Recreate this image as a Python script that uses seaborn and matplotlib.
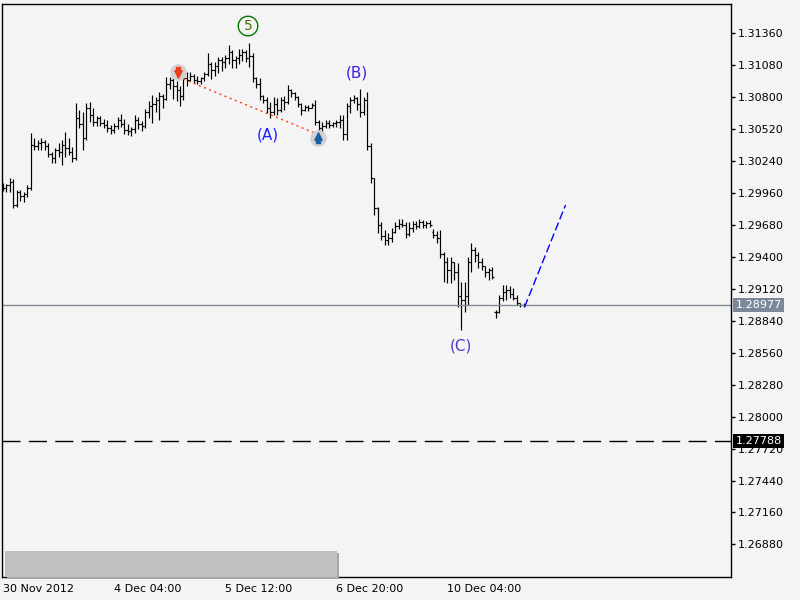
import matplotlib
matplotlib.use("Agg")
import matplotlib.pyplot as plt
from matplotlib.patches import Rectangle
import numpy as np
import pandas as pd
import seaborn as sns

# Hourly EURUSD bars (30 Nov 2012 20:00 onwards)
opens = [
    1.30019, 1.30001, 1.30027, 1.30054, 1.29852, 1.29966, 1.29931, 1.29949, 1.30001, 1.30378,
    1.30369, 1.30395, 1.30404, 1.30369, 1.30299, 1.30264, 1.30334, 1.30316, 1.30378, 1.30351,
    1.30316, 1.30264, 1.30614, 1.30561, 1.30439, 1.30702, 1.30640, 1.30579, 1.30614, 1.30570,
    1.30553, 1.30526, 1.30509, 1.30544, 1.30596, 1.30561,
    1.30509, 1.30500, 1.30518, 1.30596, 1.30561, 1.30544, 1.30667, 1.30719, 1.30737, 1.30772,
    1.30807, 1.30780, 1.30912, 1.30947, 1.30894, 1.30859, 1.30807, 1.30964, 1.30947, 1.30982,
    1.30947, 1.30938, 1.30964, 1.30999, 1.31087, 1.31034, 1.31069, 1.31122, 1.31104, 1.31139,
    1.31192, 1.31122, 1.31139, 1.31165, 1.31192, 1.31139,
    1.31157, 1.30964, 1.30912, 1.30807, 1.30772, 1.30702, 1.30667, 1.30737, 1.30684, 1.30772,
    1.30754, 1.30859, 1.30833, 1.30798, 1.30737, 1.30684, 1.30710, 1.30702, 1.30728, 1.30579,
    1.30526, 1.30544, 1.30570, 1.30553, 1.30570, 1.30579, 1.30596, 1.30474, 1.30719, 1.30772,
    1.30789, 1.30737, 1.30667, 1.30772, 1.30369, 1.30089, 1.29826,
    1.29677, 1.29581, 1.29546, 1.29563, 1.29616, 1.29668, 1.29686, 1.29677, 1.29598, 1.29651,
    1.29686, 1.29668, 1.29703, 1.29677, 1.29695, 1.29616, 1.29590, 1.29563, 1.29423, 1.29353,
    1.29283, 1.29353, 1.29266, 1.29056, 1.29021, 1.29056, 1.29353, 1.29459, 1.29415, 1.29353,
    1.29318, 1.29266, 1.29283, 1.28915, 1.28915, 1.29038, 1.29091, 1.29108, 1.29073, 1.29038,
    1.28994, 1.28977,
]
highs = [
    1.30045, 1.30036, 1.30089, 1.30080, 1.29984, 1.29984, 1.29966, 1.30027, 1.30483, 1.30439,
    1.30421, 1.30439, 1.30421, 1.30395, 1.30316, 1.30351, 1.30395, 1.30421, 1.30491, 1.30439,
    1.30360, 1.30745, 1.30684, 1.30667, 1.30745, 1.30754, 1.30702, 1.30631, 1.30631, 1.30605,
    1.30596, 1.30553, 1.30570, 1.30623, 1.30649, 1.30605,
    1.30561, 1.30535, 1.30640, 1.30623, 1.30588, 1.30693, 1.30763, 1.30815, 1.30798, 1.30842,
    1.30824, 1.30973, 1.30973, 1.30999, 1.30938, 1.30894, 1.31017, 1.31017, 1.31017, 1.30999,
    1.30982, 1.30973, 1.31017, 1.31183, 1.31104, 1.31104, 1.31148, 1.31148, 1.31165, 1.31253,
    1.31209, 1.31157, 1.31218, 1.31218, 1.31209, 1.31271,
    1.31183, 1.30973, 1.30964, 1.30815, 1.30798, 1.30754, 1.30798, 1.30789, 1.30798, 1.30807,
    1.30903, 1.30868, 1.30842, 1.30807, 1.30745, 1.30728, 1.30728, 1.30745, 1.30772, 1.30596,
    1.30579, 1.30596, 1.30596, 1.30579, 1.30596, 1.30640, 1.30640, 1.30745, 1.30798, 1.30815,
    1.30798, 1.30868, 1.30798, 1.30842, 1.30395, 1.30089, 1.29835,
    1.29703, 1.29633, 1.29607, 1.29651, 1.29703, 1.29730, 1.29730, 1.29703, 1.29703, 1.29712,
    1.29712, 1.29730, 1.29721, 1.29712, 1.29721, 1.29642, 1.29625, 1.29633, 1.29441, 1.29397,
    1.29397, 1.29353, 1.29345, 1.29178, 1.29178, 1.29397, 1.29520, 1.29485, 1.29441, 1.29388,
    1.29318, 1.29301, 1.29310, 1.28933, 1.29064, 1.29152, 1.29152, 1.29143, 1.29126, 1.29064,
    1.28994, 1.28994,
]
lows = [
    1.29975, 1.29966, 1.29966, 1.29826, 1.29835, 1.29887, 1.29879, 1.29922, 1.29984, 1.30334,
    1.30334, 1.30334, 1.30334, 1.30272, 1.30220, 1.30220, 1.30272, 1.30203, 1.30272, 1.30290,
    1.30229, 1.30246, 1.30526, 1.30334, 1.30421, 1.30579, 1.30544, 1.30544, 1.30544, 1.30526,
    1.30491, 1.30474, 1.30483, 1.30518, 1.30535, 1.30474,
    1.30465, 1.30456, 1.30483, 1.30518, 1.30500, 1.30526, 1.30614, 1.30570, 1.30667, 1.30596,
    1.30702, 1.30772, 1.30868, 1.30780, 1.30763, 1.30719, 1.30772, 1.30894, 1.30938, 1.30920,
    1.30912, 1.30912, 1.30938, 1.30982, 1.30955, 1.30982, 1.31008, 1.31025, 1.31052, 1.31087,
    1.31052, 1.31052, 1.31087, 1.31113, 1.31104, 1.31060,
    1.30929, 1.30877, 1.30772, 1.30745, 1.30658, 1.30614, 1.30640, 1.30640, 1.30667, 1.30684,
    1.30737, 1.30798, 1.30772, 1.30710, 1.30640, 1.30675, 1.30675, 1.30702, 1.30553, 1.30491,
    1.30483, 1.30526, 1.30526, 1.30535, 1.30535, 1.30526, 1.30421, 1.30421, 1.30658, 1.30745,
    1.30684, 1.30623, 1.30640, 1.30334, 1.30045, 1.29765, 1.29607,
    1.29546, 1.29502, 1.29502, 1.29528, 1.29607, 1.29642, 1.29660, 1.29563, 1.29581, 1.29616,
    1.29642, 1.29651, 1.29651, 1.29651, 1.29660, 1.29563, 1.29520, 1.29388, 1.29178, 1.29169,
    1.29169, 1.29196, 1.28959, 1.28758, 1.28915, 1.28977, 1.29266, 1.29353, 1.29301, 1.29283,
    1.29222, 1.29196, 1.29204, 1.28863, 1.28906, 1.29012, 1.29021, 1.29038, 1.29021, 1.28977,
    1.28959, 1.28959,
]
closes = [
    1.30001, 1.30027, 1.30054, 1.29852, 1.29966, 1.29931, 1.29949, 1.30001, 1.30378, 1.30369,
    1.30395, 1.30404, 1.30369, 1.30299, 1.30264, 1.30334, 1.30316, 1.30378, 1.30351, 1.30316,
    1.30264, 1.30614, 1.30561, 1.30439, 1.30702, 1.30640, 1.30579, 1.30614, 1.30570, 1.30553,
    1.30526, 1.30509, 1.30544, 1.30596, 1.30561, 1.30509,
    1.30500, 1.30518, 1.30596, 1.30561, 1.30544, 1.30667, 1.30719, 1.30737, 1.30772, 1.30807,
    1.30780, 1.30912, 1.30947, 1.30894, 1.30859, 1.30807, 1.30964, 1.30947, 1.30982, 1.30947,
    1.30938, 1.30964, 1.30999, 1.31087, 1.31034, 1.31069, 1.31122, 1.31104, 1.31139, 1.31192,
    1.31122, 1.31139, 1.31165, 1.31192, 1.31139, 1.31157,
    1.30964, 1.30912, 1.30807, 1.30772, 1.30702, 1.30667, 1.30737, 1.30684, 1.30772, 1.30754,
    1.30859, 1.30833, 1.30798, 1.30737, 1.30684, 1.30710, 1.30702, 1.30728, 1.30579, 1.30526,
    1.30544, 1.30570, 1.30553, 1.30570, 1.30579, 1.30596, 1.30474, 1.30719, 1.30772, 1.30789,
    1.30737, 1.30667, 1.30772, 1.30369, 1.30089, 1.29826, 1.29677,
    1.29581, 1.29546, 1.29563, 1.29616, 1.29668, 1.29686, 1.29677, 1.29598, 1.29651, 1.29686,
    1.29668, 1.29703, 1.29677, 1.29695, 1.29677, 1.29590, 1.29563, 1.29423, 1.29353, 1.29283,
    1.29353, 1.29266, 1.29056, 1.29021, 1.29056, 1.29353, 1.29459, 1.29415, 1.29353, 1.29318,
    1.29266, 1.29283, 1.29222, 1.28915, 1.29038, 1.29091, 1.29108, 1.29073, 1.29038, 1.28994,
    1.28977, 1.28977,
]

tick_bars = [0, 32, 64, 96, 128]
tick_labels = ["30 Nov 2012", "4 Dec 04:00", "5 Dec 12:00", "6 Dec 20:00", "10 Dec 04:00"]
price_ticks = [1.31360, 1.31080, 1.30800, 1.30520, 1.30240, 1.29960, 1.29680, 1.29400,
               1.29120, 1.28840, 1.28560, 1.28280, 1.28000, 1.27720, 1.27440, 1.27160, 1.26880]

last_price = 1.28977
target_price = 1.27788

# Elliott wave labels: (text, bar, price)
wave_labels = [("(A)", 76.4, 1.30465), ("(B)", 102.0, 1.31008), ("(C)", 132.0, 1.28618)]
wave5 = (70.6, 1.31419)

# trend line between the two arrows, and the forecast leg
trend_x = [50.5, 90.5]
trend_y = [1.30973, 1.30474]
forecast_x = [150.3, 162.1]
forecast_y = [1.28959, 1.29852]

df = pd.DataFrame({"open": opens, "high": highs, "low": lows, "close": closes})
df["bar"] = np.arange(len(df))

sns.set_style("white")
plt.rcParams["font.family"] = ["DejaVu Sans"]

bg = "#f4f4f4"
fig = plt.figure(figsize=(8, 6), dpi=100, facecolor=bg)
ax = fig.add_axes([0.0029, 0.0383, 0.9105, 0.9545])
ax.set_facecolor(bg)

# OHLC bars
ax.vlines(df["bar"], df["low"], df["high"], color="black", lw=0.85)
ax.hlines(df["open"], df["bar"] - 0.5, df["bar"], color="black", lw=0.85)
ax.hlines(df["close"], df["bar"], df["bar"] + 0.5, color="black", lw=0.85)

# price lines
ax.axhline(last_price, color="#808a94", lw=1.0)
ax.axhline(target_price, color="black", lw=1.0, dashes=(13, 6))

# trend line and forecast
sns.lineplot(x=trend_x, y=trend_y, ax=ax, color="#ff3b1a", lw=1.0, linestyle=(0, (1.5, 2.5)))
sns.lineplot(x=forecast_x, y=forecast_y, ax=ax, color="#0000ff", lw=1.0,
             linestyle=(0, (6, 2.5)))

# arrow markers
ax.scatter([50.5], [1.31017], s=120, color="#d2d2d2", zorder=4)
ax.scatter([50.5], [1.31000], s=28, marker="v", color="#e8401c", zorder=5)
ax.scatter([50.5], [1.31040], s=10, marker="s", color="#e8401c", zorder=5)
ax.scatter([90.8], [1.30439], s=120, color="#d2d2d2", zorder=4)
ax.scatter([90.8], [1.30456], s=28, marker="^", color="#1a5ea8", zorder=5)
ax.scatter([90.8], [1.30416], s=10, marker="s", color="#1a5ea8", zorder=5)

# wave labels
ax.text(wave5[0], wave5[1], "5", ha="center", va="center", fontsize=10, color="#4d6b00",
        bbox=dict(boxstyle="circle,pad=0.2", fc="none", ec="#007a00", lw=1.0))
colors = ["#1f1fff", "#3a1fe6", "#4a3cc8"]
for (txt, xb, yp), c in zip(wave_labels, colors):
    ax.text(xb, yp, txt, ha="center", va="center", fontsize=11, color=c)

# price boxes on the right scale
yt = ax.get_yaxis_transform()
ax.text(1.0066, last_price, f"{last_price:.5f}", transform=yt, ha="left", va="center",
        fontsize=8, color="white", clip_on=False, zorder=6,
        bbox=dict(boxstyle="square,pad=0.2", fc="#7b8898", ec="none"))
ax.text(1.0066, target_price, f"{target_price:.5f}", transform=yt, ha="left", va="center",
        fontsize=8, color="white", clip_on=False, zorder=6,
        bbox=dict(boxstyle="square,pad=0.2", fc="black", ec="none"))

# grey scroll panel at the bottom
ax.add_patch(Rectangle((0.0065, -0.003), 0.4555, 0.0454, transform=ax.transAxes,
                       fc="#a9a9a9", ec="none", zorder=6, clip_on=False))
ax.add_patch(Rectangle((0.0037, 0.0), 0.4555, 0.0454, transform=ax.transAxes,
                       fc="#c0c0c0", ec="none", zorder=7))

ax.set_xlim(-0.2, 209.7)
ax.set_ylim(1.26595, 1.31609)
ax.set_xticks(tick_bars)
ax.set_xticklabels(tick_labels, ha="left")
ax.set_yticks(price_ticks)
ax.set_yticklabels([f"{p:.5f}" for p in price_ticks])
ax.yaxis.tick_right()
ax.tick_params(axis="y", direction="out", length=3, width=1, labelsize=8, pad=2,
               colors="black")
ax.tick_params(axis="x", direction="out", length=4, width=1, labelsize=8, pad=1,
               colors="black")
for s in ax.spines.values():
    s.set_visible(True)
    s.set_color("black")
    s.set_linewidth(1.0)
ax.set_xlabel("")
ax.set_ylabel("")

fig.savefig("out.png", dpi=100, facecolor=bg)
